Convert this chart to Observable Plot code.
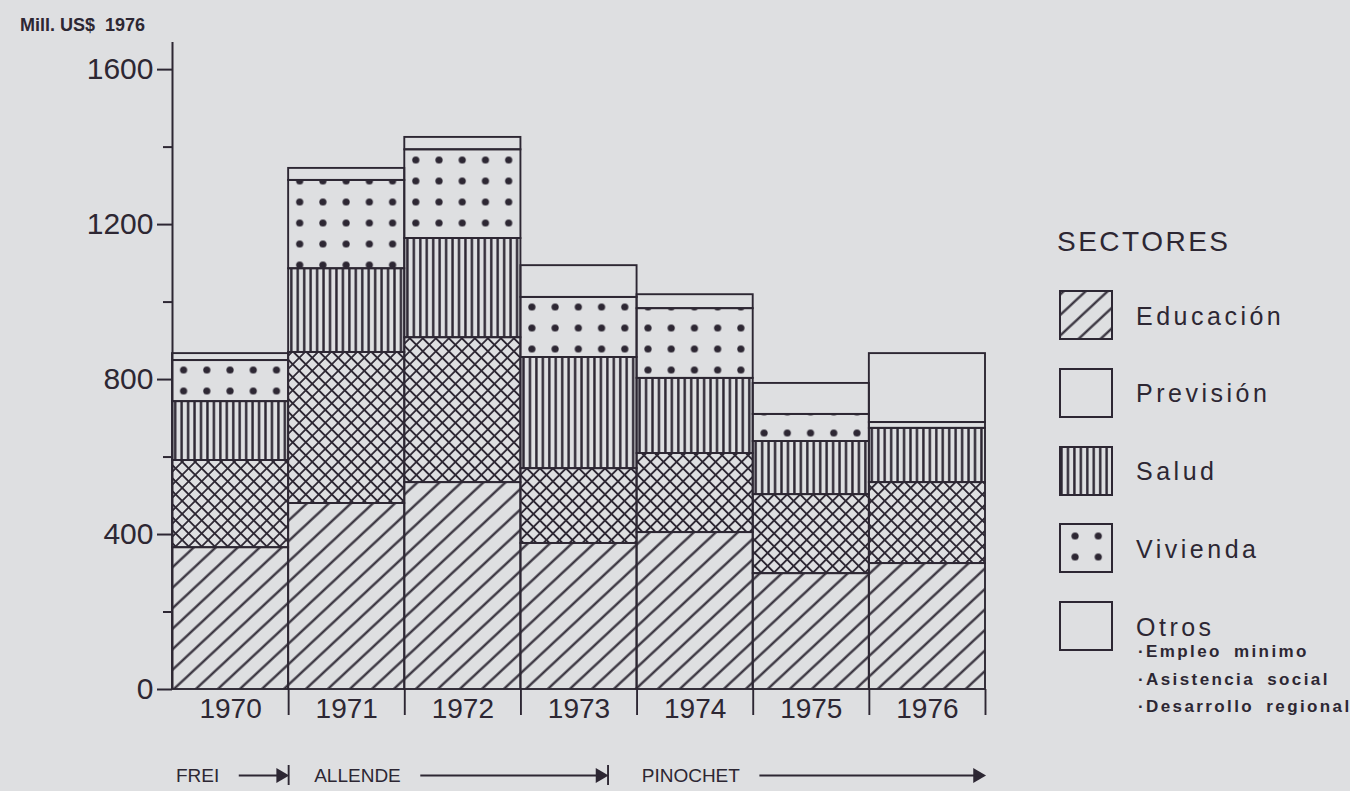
<!DOCTYPE html>
<html>
<head>
<meta charset="utf-8">
<script src="https://cdn.jsdelivr.net/npm/d3@7"></script>
<script src="https://cdn.jsdelivr.net/npm/@observablehq/plot@0.6"></script>
<style>
  html, body { margin: 0; padding: 0; }
  body { background: #dedfe1; width: 1350px; height: 791px; overflow: hidden; font-family: "Liberation Sans", Arial, sans-serif; color: #2d2733; }
  #wrap { position: relative; width: 1350px; height: 791px; }
  #unit { position: absolute; left: 20px; top: 16px; font-size: 18px; font-weight: bold; line-height: 1; white-space: pre; }
  #legend-title { position: absolute; left: 1057px; top: 228px; font-size: 28px; letter-spacing: 2.5px; line-height: 1; }
  .lg-item { position: absolute; left: 1059px; height: 50px; display: flex; align-items: center; }
  .lg-item svg { display: block; }
  .lg-label { margin-left: 23px; font-size: 25px; letter-spacing: 3.5px; line-height: 1; padding-top: 2px; }
  .lg-sub { position: absolute; left: 1138px; font-size: 17px; font-weight: bold; letter-spacing: 2.4px; word-spacing: 5px; line-height: 1; white-space: pre; }
</style>
</head>
<body>
<svg width="0" height="0" style="position:absolute">
  <defs>
    <pattern id="p-edu" patternUnits="userSpaceOnUse" width="15" height="15" patternTransform="rotate(47)">
      <line x1="7.5" y1="-1" x2="7.5" y2="16" stroke="#2d2733" stroke-width="2.2"/>
    </pattern>
    <pattern id="p-prev" patternUnits="userSpaceOnUse" width="9.2" height="9.2" patternTransform="rotate(45)">
      <line x1="4.6" y1="-1" x2="4.6" y2="10.2" stroke="#2d2733" stroke-width="1.8"/>
      <line x1="-1" y1="4.6" x2="10.2" y2="4.6" stroke="#2d2733" stroke-width="1.8"/>
    </pattern>
    <pattern id="p-salud" patternUnits="userSpaceOnUse" x="172" width="6.45" height="10">
      <line x1="3.2" y1="-1" x2="3.2" y2="11" stroke="#2d2733" stroke-width="2.4"/>
    </pattern>
    <pattern id="p-viv" patternUnits="userSpaceOnUse" x="172" y="2.5" width="23.22" height="21">
      <circle cx="11.6" cy="10.5" r="3.6" fill="#2d2733"/>
    </pattern>
  </defs>
</svg>
<div id="wrap">
  <div id="unit"></div>
</div>
<script>
// ---------- data ----------
const years = [1970, 1971, 1972, 1973, 1974, 1975, 1976];
const sectors = ["Educación", "Previsión", "Salud", "Vivienda", "Otros"];
const educacion = [366, 480, 534, 377, 405, 299, 325];
const prevision = [225, 390, 374, 193, 204, 204, 209];
const salud     = [152, 216, 256, 287, 194, 137, 140];
const vivienda  = [106, 228, 229, 155, 180,  70,  15];
const otros     = [ 18,  31,  32,  82,  36,  80, 178];
const yTicks = [0, 400, 800, 1200, 1600];
const yMinorTicks = [200, 600, 1000, 1400];
const otrosItems = ["Empleo minimo", "Asistencia social", "Desarrollo regional"];
const periodNames = ["FREI", "ALLENDE", "PINOCHET"];
const periodLabelStart = [1969.53, 1970.72, 1973.54];
const periodEnd = [1970.5, 1973.25, 1976.5];
const unitLabel = "Mill. US$  1976";
const legendTitle = "SECTORES";

// ---------- styles ----------
const ink = "#2d2733";
const fills = ["url(#p-edu)", "url(#p-prev)", "url(#p-salud)", "url(#p-viv)", "none"];
const legendFills = ["url(#p-edu)", "none", "url(#p-salud)", "url(#p-viv)", "none"];
const font = "Liberation Sans";

const series = [educacion, prevision, salud, vivienda, otros];
const data = years.flatMap((year, i) => sectors.map((sector, k) => ({year, sector, value: series[k][i]})));
const boundaries = years.map(y => y + 0.5);
const xDomain = [years[0] - 0.5, years[years.length - 1] + 0.5];
const yTop = 1670;

const wrap = document.getElementById("wrap");
document.getElementById("unit").textContent = unitLabel;

const chart = Plot.plot({
  width: 1000,
  height: 730,
  marginLeft: 172,
  marginRight: 15,
  marginTop: 42,
  marginBottom: 41,
  style: {background: "transparent", color: ink, fontFamily: font, overflow: "visible"},
  x: {domain: xDomain, axis: null},
  y: {domain: [0, yTop], axis: null},
  color: {domain: sectors, range: fills},
  marks: [
    Plot.rectY(data, {
      x1: d => d.year - 0.5,
      x2: d => d.year + 0.5,
      y: "value",
      fill: "sector",
      stroke: ink,
      strokeWidth: 1.9
    }),
    Plot.ruleX([xDomain[0]], {y1: 0, y2: yTop, stroke: ink, strokeWidth: 2}),
    Plot.axisY({ticks: yTicks, label: null, tickSize: 15, tickPadding: 4, fontSize: 30, stroke: ink, strokeWidth: 2, fill: ink, tickFormat: d => String(d)}),
    Plot.axisY({ticks: yMinorTicks, label: null, tickSize: 9, stroke: ink, strokeWidth: 2, tickFormat: () => ""}),
    Plot.axisX({ticks: years, label: null, tickSize: 0, tickPadding: 9, fontSize: 28, fill: ink, tickFormat: d => String(d)}),
    Plot.axisX({ticks: boundaries, label: null, tickSize: 26, stroke: ink, strokeWidth: 1.9, tickFormat: () => ""})
  ]
});
chart.style.position = "absolute";
chart.style.left = "0px";
chart.style.top = "0px";
wrap.appendChild(chart);

// ---------- period annotation row ----------
const periods = periodNames.map((name, i) => ({name, start: periodLabelStart[i], end: periodEnd[i]}));
const ctx = document.createElement("canvas").getContext("2d");
ctx.font = `19px "${font}"`;
const gap = 20;
const periodMarks = [
  Plot.text(periods, {x: "start", text: "name", textAnchor: "start", fontSize: 19, fill: ink}),
  Plot.dot(periods, {x: "end", symbol: "triangle", rotate: 90, r: 5.5, fill: ink, stroke: "none", dx: -8})
];
periods.forEach(p => {
  periodMarks.push(Plot.ruleY([p], {x1: "start", x2: "end", y: null, stroke: ink, strokeWidth: 1.8,
    insetLeft: ctx.measureText(p.name).width + gap, insetRight: 6}));
});
periodMarks.push(Plot.ruleX(periods.slice(0, -1), {x: "end", stroke: ink, strokeWidth: 1.9, insetTop: 10, insetBottom: 10}));

const periodPlot = Plot.plot({
  width: 1000,
  height: 40,
  marginLeft: 172,
  marginRight: 15,
  marginTop: 0,
  marginBottom: 0,
  style: {background: "transparent", color: ink, fontFamily: font, overflow: "visible"},
  x: {domain: xDomain, axis: null},
  marks: periodMarks
});
periodPlot.style.position = "absolute";
periodPlot.style.left = "0px";
periodPlot.style.top = "755px";
wrap.appendChild(periodPlot);

// ---------- legend ----------
const title = document.createElement("div");
title.id = "legend-title";
title.textContent = legendTitle;
wrap.appendChild(title);

sectors.forEach((s, i) => {
  const item = document.createElement("div");
  item.className = "lg-item";
  item.style.top = (290 + i * 77.8) + "px";
  const sw = d3.create("svg").attr("width", 54).attr("height", 50).attr("viewBox", "5 0 54 50");
  sw.append("rect").attr("x", 6).attr("y", 1).attr("width", 52).attr("height", 48)
    .attr("fill", legendFills[i]).attr("stroke", ink).attr("stroke-width", 2);
  item.appendChild(sw.node());
  const lab = document.createElement("span");
  lab.className = "lg-label";
  lab.textContent = s;
  item.appendChild(lab);
  wrap.appendChild(item);
});

otrosItems.forEach((t, i) => {
  const d = document.createElement("div");
  d.className = "lg-sub";
  d.style.top = (643 + i * 27.5) + "px";
  d.textContent = "·" + t;
  wrap.appendChild(d);
});
</script>
</body>
</html>
